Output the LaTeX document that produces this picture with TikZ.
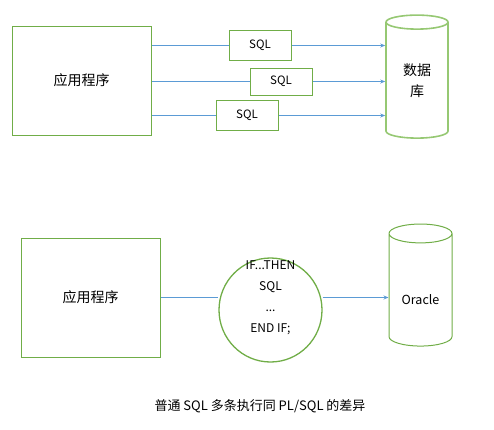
\documentclass[tikz,border=0pt]{standalone}
\usepackage{fontspec}
\setmainfont{Noto Sans CJK SC}
\usepackage{xcolor}
\usepackage{tikz}
\usetikzlibrary{shapes.geometric,arrows.meta}
\definecolor{boxgreen}{RGB}{112,173,71}
\definecolor{dbgreen}{RGB}{150,200,115}
\definecolor{lineblue}{RGB}{91,155,213}
\tikzset{
  appbox/.style={draw=boxgreen,line width=1pt,inner sep=0pt,minimum width=139pt,font=\fontsize{14}{16}\selectfont},
  sqlbox/.style={draw=boxgreen,line width=1pt,inner sep=0pt,minimum width=62pt,minimum height=30pt,font=\fontsize{11.5}{13}\selectfont},
  dbcyl/.style={cylinder,shape border rotate=90,aspect=0.5,draw=boxgreen,line width=1pt,inner sep=0pt,align=center},
  flow/.style={draw=lineblue,line width=0.8pt},
  flowarrow/.style={flow,-{Stealth[length=5pt,width=4pt]}}
}
\begin{document}
\begin{tikzpicture}[x=1pt,y=-1pt]
  \useasboundingbox (0,0) rectangle (494,429);
  %上半部分：应用程序逐条发送 SQL
  \node[appbox,minimum height=109pt] (app1) at (81.5,80.5) {应用程序};
  \node[sqlbox] (sqlA) at (260,45.5) {SQL};
  \node[sqlbox,minimum height=27pt] (sqlB) at (281,81.5) {SQL};
  \node[sqlbox] (sqlC) at (247,115.5) {SQL};
  \node[dbcyl,draw=dbgreen,line width=1.6pt,minimum width=62pt,minimum height=123pt,
        font=\fontsize{14}{21}\selectfont] (db) at (417,80.5) {数据\\库};
  %三条 SQL 连线
  \foreach \s in {sqlA,sqlB,sqlC}{
    \draw[flow] (app1.east |- \s) -- (\s.west);
    \draw[flowarrow] (\s.east) -- (\s -| db.west);
  }
  %下半部分：PL/SQL 块
  \node[appbox,minimum height=119pt] (app2) at (90.5,297.5) {应用程序};
  \node[ellipse,draw=boxgreen,line width=1.3pt,minimum width=103pt,minimum height=104pt] (plsql) at (270.5,310) {};
  \node[align=center,font=\fontsize{12}{21}\selectfont] (plsqltext) at (270.5,298) {IF...THEN\\SQL\\...\\END IF;};
  \node[dbcyl,minimum width=63pt,minimum height=122pt,text height=29pt,text depth=0pt,
        font=\fontsize{12.5}{15}\selectfont] (oracle) at (420.5,290) {Oracle};
  \draw[flow] (app2.east) -- (app2 -| plsql.west);
  \draw[flowarrow] (app2 -| plsql.east) -- (app2 -| oracle.west);
  %说明文字
  \node[font=\fontsize{13}{15}\selectfont] (caption) at (260,406) {普通 SQL 多条执行同 PL/SQL 的差异};
\end{tikzpicture}
\end{document}
